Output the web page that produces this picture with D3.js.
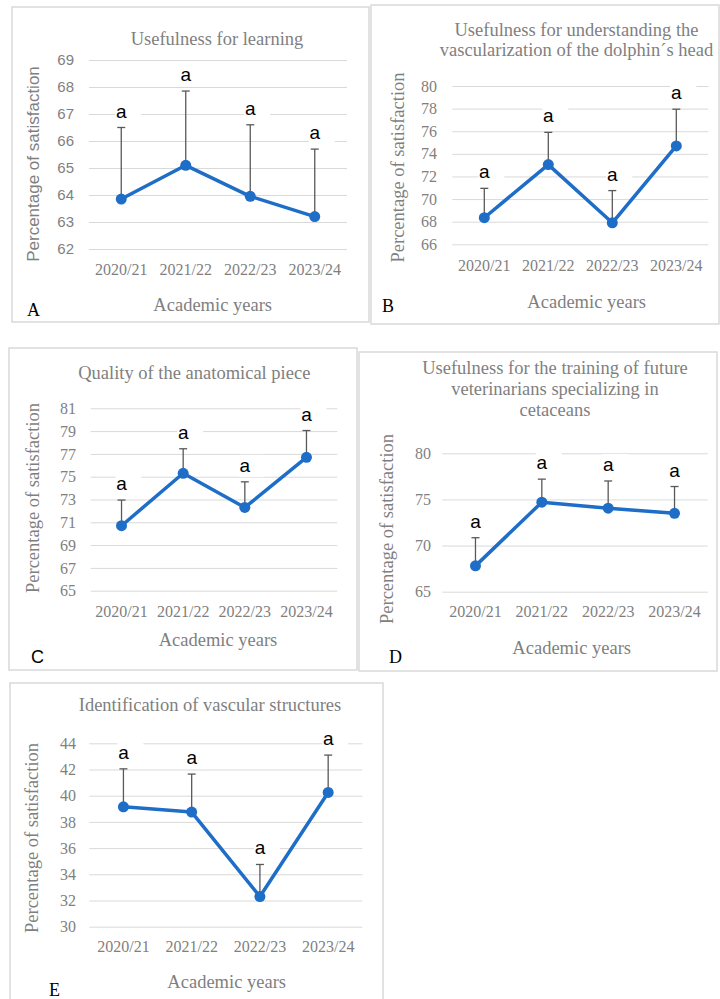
<!DOCTYPE html>
<html lang="en">
<head>
<meta charset="UTF-8">
<title>Satisfaction by academic year</title>
<style>
  html, body { margin: 0; padding: 0; background: #fff; }
  svg { display: block; }
</style>
</head>
<body>
<div id="wrapper"></div>
<script src="https://cdn.jsdelivr.net/npm/d3@7"></script>
<script>
// academic years (x categories)
const years = ["2020/21", "2021/22", "2022/23", "2023/24"];

// A - usefulness for learning
const meanA = [63.85, 65.1, 63.95, 63.2];
const upperA = [66.5, 67.85, 66.6, 65.7];
const ticksA = [62, 63, 64, 65, 66, 67, 68, 69];

// B - vascularization of the dolphin's head
const meanB = [68.35, 73.05, 67.9, 74.7];
const upperB = [70.95, 75.9, 70.75, 77.95];
const ticksB = [66, 68, 70, 72, 74, 76, 78, 80];

// C - quality of the anatomical piece
const meanC = [70.7, 75.3, 72.3, 76.7];
const upperC = [72.95, 77.45, 74.55, 79.05];
const ticksC = [65, 67, 69, 71, 73, 75, 77, 79, 81];

// D - training of future veterinarians
const meanD = [67.8, 74.7, 74.05, 73.5];
const upperD = [70.85, 77.2, 77.0, 76.4];
const ticksD = [65, 70, 75, 80];

// E - identification of vascular structures
const meanE = [39.15, 38.75, 32.3, 40.25];
const upperE = [42.05, 41.65, 34.75, 43.1];
const ticksE = [30, 32, 34, 36, 38, 40, 42, 44];

// significance letters
const letters = ["a", "a", "a", "a"];

const SERIF = "'Liberation Serif', 'Times New Roman', serif";
const SANS = "'Liberation Sans', Arial, sans-serif";
const GREY = "#7f7f7f";
const BLUE = "#1e6ec8";

const svg = d3.select('#wrapper').append('svg')
    .attr('width', 720)
    .attr('height', 999);

const panels = [
    { id: "A", title: ["Usefulness for learning"], mean: meanA, upper: upperA, ticks: ticksA,
      box: [12, 7, 357, 315], plot: [89, 347, 60, 249], tickX: 74, tickFont: SANS, tickSize: 15,
      titleX: 217, titleY: [39], xLabY: 269.5, axX: 212.7, axY: 305, yTitle: [33.3, 164], yFont: SANS, ySize: 17,
      letter: [27, 310], letterFont: SERIF },
    { id: "B", title: ["Usefulness for understanding the", "vascularization of the dolphin\u00b4s head"],
      mean: meanB, upper: upperB, ticks: ticksB,
      box: [371, 5, 348, 319], plot: [452.3, 708.3, 86, 244.3], tickX: 437, tickFont: SERIF, tickSize: 16,
      titleX: 576.5, titleY: [30, 50], xLabY: 265.7, axX: 586.7, axY: 301.7, yTitle: [398.3, 167.5], yFont: SERIF, ySize: 18.5,
      letter: [382, 306], letterFont: SERIF },
    { id: "C", title: ["Quality of the anatomical piece"], mean: meanC, upper: upperC, ticks: ticksC,
      box: [9, 348, 348, 322], plot: [90.7, 337.3, 408.3, 590.7], tickX: 76, tickFont: SERIF, tickSize: 16,
      titleX: 194.3, titleY: [373.3], xLabY: 611.7, axX: 218, axY: 640, yTitle: [33, 498], yFont: SERIF, ySize: 18.5,
      letter: [31, 657], letterFont: SANS },
    { id: "D", title: ["Usefulness for the training of future", "veterinarians specializing in", "cetaceans"],
      mean: meanD, upper: upperD, ticks: ticksD,
      box: [359, 352, 358, 319], plot: [442.3, 707.7, 453.3, 591.7], tickX: 431, tickFont: SERIF, tickSize: 16,
      titleX: 555, titleY: [367.7, 389.3, 410], xLabY: 611.7, axX: 571.7, axY: 648.3, yTitle: [386.7, 529], yFont: SERIF, ySize: 18.5,
      letter: [389, 657], letterFont: SERIF },
    { id: "E", title: ["Identification of vascular structures"], mean: meanE, upper: upperE, ticks: ticksE,
      box: [10, 683, 373, 322], plot: [89.3, 362.3, 743.3, 926.7], tickX: 76, tickFont: SERIF, tickSize: 16,
      titleX: 210, titleY: [705], xLabY: 946.7, axX: 226.7, axY: 981.7, yTitle: [31.7, 838], yFont: SERIF, ySize: 18.5,
      letter: [49, 990], letterFont: SERIF }
];

panels.forEach(drawPanel);

function drawPanel(p) {
    const g = svg.append('g').attr('class', 'panel-' + p.id);
    const [x0, x1, yTop, yBot] = p.plot;
    const ticks = p.ticks;

    // chart border
    g.append('rect')
        .attr('x', p.box[0]).attr('y', p.box[1])
        .attr('width', p.box[2]).attr('height', p.box[3])
        .attr('fill', 'none')
        .attr('stroke', '#d9d9d9')
        .attr('stroke-width', 1.5);

    const x = d3.scaleBand().domain(years).range([x0, x1]);
    const y = d3.scaleLinear()
        .domain([ticks[0], ticks[ticks.length - 1]])
        .range([yBot, yTop]);
    const cx = d => x(d) + x.bandwidth() / 2;

    // gridlines via axis
    const yAxis = d3.axisLeft(y)
        .tickValues(ticks)
        .tickFormat(d3.format('d'))
        .tickSizeInner(-(x1 - x0))
        .tickSizeOuter(0)
        .tickPadding(x0 - p.tickX);
    const ya = g.append('g')
        .attr('transform', `translate(${x0},0)`)
        .call(yAxis);
    ya.select('.domain').remove();
    ya.selectAll('.tick line').attr('stroke', '#d9d9d9').attr('stroke-width', 1);
    ya.selectAll('.tick text')
        .attr('fill', GREY)
        .style('font-family', p.tickFont)
        .style('font-size', p.tickSize + 'px');

    // x axis labels
    const xAxis = d3.axisBottom(x).tickSize(0).tickPadding(0);
    const xa = g.append('g')
        .attr('transform', `translate(0,${p.xLabY})`)
        .call(xAxis);
    xa.select('.domain').remove();
    xa.selectAll('.tick text')
        .attr('y', 0).attr('dy', null)
        .attr('dominant-baseline', 'central')
        .attr('fill', GREY)
        .style('font-family', SERIF)
        .style('font-size', '16px');

    // title
    g.append('text')
        .attr('text-anchor', 'middle')
        .attr('fill', GREY)
        .style('font-family', SERIF)
        .style('font-size', '18.5px')
        .selectAll('tspan')
        .data(p.title)
        .join('tspan')
        .attr('x', p.titleX)
        .attr('y', (d, i) => p.titleY[i])
        .attr('dominant-baseline', 'central')
        .text(d => d);

    // axis titles
    g.append('text')
        .attr('x', p.axX).attr('y', p.axY)
        .attr('text-anchor', 'middle')
        .attr('dominant-baseline', 'central')
        .attr('fill', GREY)
        .style('font-family', SERIF)
        .style('font-size', '18.5px')
        .text('Academic years');

    g.append('text')
        .attr('transform', `translate(${p.yTitle[0]},${p.yTitle[1]}) rotate(-90)`)
        .attr('text-anchor', 'middle')
        .attr('dominant-baseline', 'central')
        .attr('fill', GREY)
        .style('font-family', p.yFont)
        .style('font-size', p.ySize + 'px')
        .text('Percentage of satisfaction');

    // panel letter
    g.append('text')
        .attr('x', p.letter[0]).attr('y', p.letter[1])
        .attr('dominant-baseline', 'central')
        .attr('fill', '#000')
        .style('font-family', p.letterFont)
        .style('font-size', '18px')
        .text(p.id);

    const rows = years.map((yr, i) => ({ yr, m: p.mean[i], u: p.upper[i], l: letters[i] }));

    // white boxes behind letters (they cut the gridlines)
    g.selectAll('.lblbg')
        .data(rows)
        .join('rect')
        .attr('class', 'lblbg')
        .attr('x', d => cx(d.yr) - 6)
        .attr('y', d => y(d.u) - 27)
        .attr('width', 26)
        .attr('height', 22)
        .attr('fill', '#fff');

    // error bars (upper only)
    const eb = g.selectAll('.err').data(rows).join('g').attr('class', 'err')
        .attr('stroke', '#595959').attr('stroke-width', 1.3);
    eb.append('line')
        .attr('x1', d => cx(d.yr)).attr('x2', d => cx(d.yr))
        .attr('y1', d => y(d.m)).attr('y2', d => y(d.u));
    eb.append('line')
        .attr('x1', d => cx(d.yr) - 4).attr('x2', d => cx(d.yr) + 4)
        .attr('y1', d => y(d.u)).attr('y2', d => y(d.u));

    // mean line
    const line = d3.line().x(d => cx(d.yr)).y(d => y(d.m));
    g.append('path')
        .attr('d', line(rows))
        .attr('fill', 'none')
        .attr('stroke', BLUE)
        .attr('stroke-width', 3.5)
        .attr('stroke-linejoin', 'round');

    g.selectAll('.dot')
        .data(rows)
        .join('circle')
        .attr('class', 'dot')
        .attr('cx', d => cx(d.yr))
        .attr('cy', d => y(d.m))
        .attr('r', 5.5)
        .attr('fill', BLUE);

    // significance letters
    g.selectAll('.sig')
        .data(rows)
        .join('text')
        .attr('class', 'sig')
        .attr('x', d => cx(d.yr))
        .attr('y', d => y(d.u) - 10)
        .attr('text-anchor', 'middle')
        .attr('fill', '#000')
        .style('font-family', SANS)
        .style('font-size', '19px')
        .text(d => d.l);
}
</script>
</body>
</html>
